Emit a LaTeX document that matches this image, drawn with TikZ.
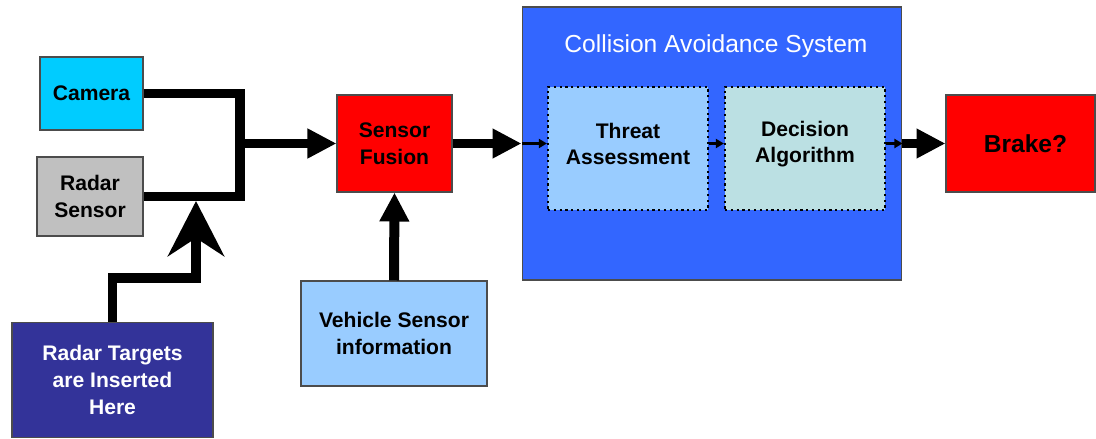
\documentclass[tikz,border=0pt]{standalone}
\usepackage{fontspec}
\setmainfont{Liberation Sans}
\usetikzlibrary{positioning,arrows.meta,calc}

\definecolor{camcyan}{HTML}{00CCFF}
\definecolor{radargray}{HTML}{C0C0C0}
\definecolor{targetblue}{HTML}{333399}
\definecolor{vehblue}{HTML}{99CCFF}
\definecolor{casblue}{HTML}{3366FF}
\definecolor{decteal}{HTML}{BBE0E3}

\tikzset{
  block/.style={draw=black!70, line width=0.6pt, align=center, inner sep=0pt,
    font=\bfseries\fontsize{12}{15.2}\selectfont},
  stage/.style={draw=black, line width=1.3pt, dotted, inner sep=0pt,
    minimum width=3.2cm, minimum height=2.46cm},
  stagetext/.style={align=center, yshift=0.09cm, font=\bfseries\fontsize{12}{15.2}\selectfont},
  bus/.style={line width=0.2cm},
  fatarrow/.style={bus, -{Triangle[length=0.58cm,width=0.56cm]}},
  bigarrow/.style={bus, -{Stealth[length=1.1cm,width=1.12cm,inset=0.36cm]}},
  thinarrow/.style={line width=0.06cm, -{Triangle[length=0.16cm,width=0.18cm]}},
}

\begin{document}
\begin{tikzpicture}[x=0.02cm, y=-0.02cm]
  \useasboundingbox (0,0) rectangle (1096,439);

  % sources on the left
  \node[block, fill=camcyan, minimum width=2.06cm, minimum height=1.46cm] (camera) at (91.5,93.5) {Camera};
  \node[block, fill=radargray, minimum width=2.12cm, minimum height=1.58cm] (radar) at (90,196.5) {Radar\\Sensor};
  \node[block, fill=targetblue, text=white, minimum width=4.02cm, minimum height=2.3cm] (targets) at (112.5,380) {Radar Targets\\are Inserted\\Here};

  % fusion and vehicle data
  \node[block, fill=red, minimum width=2.3cm, minimum height=1.94cm] (fusion) at (394.5,143.5) {Sensor\\Fusion};
  \node[block, fill=vehblue, minimum width=3.72cm, minimum height=2.1cm] (vehicle) at (394,333.5) {Vehicle Sensor\\information};

  % collision avoidance system
  \node[draw=black!70, line width=0.6pt, fill=casblue, minimum width=7.6cm, minimum height=5.46cm] (cas) at (712,143.5) {};
  \node[text=white, font=\fontsize{14}{16}\selectfont] (title) at (716,46) {Collision Avoidance System};
  \node[stage, fill=vehblue, label={[stagetext]center:Threat\\Assessment}] (threat) at (628,148.5) {};
  \node[stage, fill=decteal, label={[stagetext]center:Decision\\Algorithm}] (decision) at (805,148.5) {};

  \node[block, fill=red, minimum width=2.98cm, minimum height=1.94cm, font=\bfseries\fontsize{14}{16}\selectfont] (brake) at (1020.5,143.5) {\hspace{0.2cm}Brake?};

  % connectors
  \coordinate (join) at (239.5,143.5);
  \draw[bus] (camera.east) -| (join) |- (radar.east);
  \draw[fatarrow] (join) -- (fusion.west);

  \coordinate (bend) at (196,278);
  \coordinate (insert) at (196,201);
  \draw[bigarrow] (targets.north) |- (bend) -- (insert);

  \draw[fatarrow] (vehicle.north) -- (fusion.south);
  \draw[fatarrow] (fusion.east) -- (cas.west);

  \draw[thinarrow] (cas.west) -- (threat.west |- cas.west);
  \draw[thinarrow] (threat.east |- cas.west) -- (decision.west |- cas.west);
  \draw[thinarrow] (decision.east |- cas.east) -- (cas.east);
  \draw[fatarrow] (cas.east) -- (brake.west);
\end{tikzpicture}
\end{document}
